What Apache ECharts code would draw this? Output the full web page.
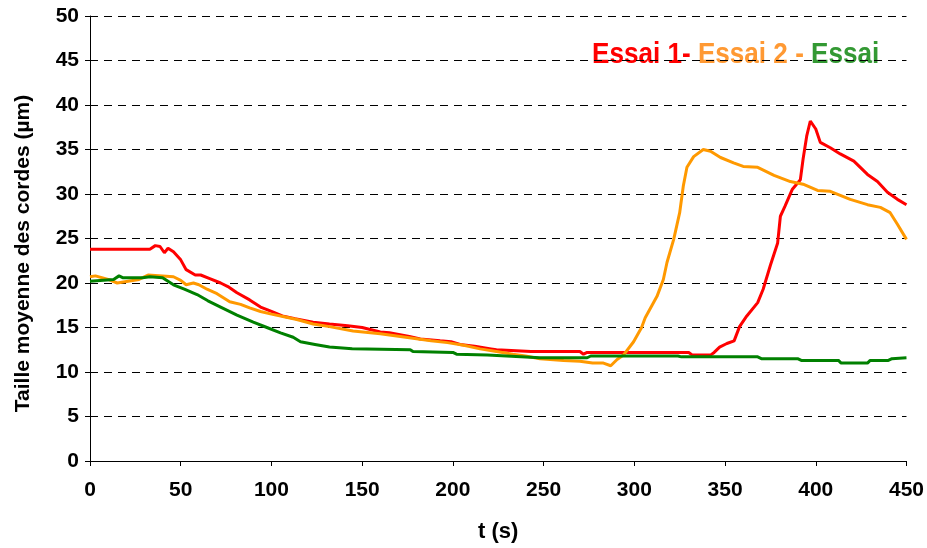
<!DOCTYPE html>
<html>
<head>
<meta charset="utf-8">
<script src="https://cdn.jsdelivr.net/npm/echarts@6/dist/echarts.min.js"></script>
<style>
  html, body { margin: 0; padding: 0; background: #fff; }
  #chart { width: 927px; height: 548px; }
</style>
</head>
<body>
<div id="chart"></div>
<script>
// Time axis ticks (s) and size axis ticks (µm)
const xTicks = [0, 50, 100, 150, 200, 250, 300, 350, 400, 450];
const yTicks = [0, 5, 10, 15, 20, 25, 30, 35, 40, 45, 50];

// Essai 1 : mean chord size vs time
const essai1T = [0, 33, 36, 38.6, 41, 43, 46, 50, 53, 58, 61, 66, 72, 76, 81, 88, 94, 100, 106, 113, 123, 132, 142, 150, 160, 165, 176, 182, 193, 199, 204, 212, 221, 224, 243, 255, 270, 272, 274, 300, 330, 332, 342, 344, 347, 351, 355, 358, 362, 368, 371, 375, 379, 380.5, 383, 387, 391.5, 393, 395, 397, 400, 402.5, 408, 413.5, 421, 428.5, 434, 439.5, 445, 450];
const essai1V = [23.8, 23.8, 24.2, 24.1, 23.4, 23.9, 23.5, 22.6, 21.5, 20.9, 20.9, 20.5, 20.0, 19.6, 18.9, 18.1, 17.3, 16.8, 16.3, 16.0, 15.6, 15.4, 15.2, 15.0, 14.5, 14.4, 14.0, 13.7, 13.5, 13.4, 13.1, 12.9, 12.6, 12.5, 12.3, 12.3, 12.3, 12.0, 12.2, 12.2, 12.2, 11.9, 11.9, 12.2, 12.8, 13.2, 13.5, 15.1, 16.3, 17.8, 19.3, 22.0, 24.5, 27.5, 28.6, 30.5, 31.6, 33.9, 36.5, 38.2, 37.3, 35.8, 35.2, 34.5, 33.7, 32.2, 31.4, 30.2, 29.4, 28.8];

// Essai 2
const essai2T = [0, 3, 10, 15, 21, 27, 32, 40, 46, 50, 53, 57, 60, 64.5, 70, 77, 83, 88, 94, 100, 107, 114, 123, 132, 145, 160, 178, 188, 197, 206, 215, 224, 233, 240, 248, 261, 270, 277, 283, 287, 290.5, 294, 299.6, 304, 306, 312.5, 316, 318, 321.7, 325, 327, 329, 332.7, 338, 342, 347.5, 354.7, 360, 368, 377, 386, 393, 401, 408, 419, 428.5, 435.6, 441, 445, 450];
const essai2V = [20.7, 20.8, 20.4, 20.0, 20.2, 20.4, 20.9, 20.8, 20.7, 20.3, 19.8, 20.0, 19.8, 19.3, 18.8, 17.9, 17.6, 17.2, 16.8, 16.5, 16.2, 15.9, 15.4, 15.1, 14.6, 14.3, 13.8, 13.5, 13.3, 13.0, 12.6, 12.3, 12.0, 11.8, 11.5, 11.3, 11.2, 11.0, 11.0, 10.7, 11.4, 11.9, 13.4, 15.0, 16.1, 18.5, 20.4, 22.3, 24.9, 27.9, 30.9, 33.0, 34.2, 35.0, 34.8, 34.1, 33.5, 33.1, 33.0, 32.1, 31.4, 31.1, 30.4, 30.3, 29.4, 28.8, 28.5, 27.9, 26.6, 24.9];

// Essai 3
const essai3T = [0, 13, 16, 18, 29, 33, 40, 46, 52, 59, 65, 72, 81, 90, 97.5, 105, 112, 116, 124, 132, 144.5, 176.5, 178, 200, 202, 219, 248, 274, 276, 324, 326, 368, 370, 390, 392, 412.5, 414, 428.5, 430, 440, 442, 450];
const essai3V = [20.2, 20.4, 20.8, 20.6, 20.6, 20.7, 20.6, 19.8, 19.3, 18.7, 18.0, 17.3, 16.4, 15.6, 15.0, 14.4, 13.9, 13.4, 13.1, 12.8, 12.6, 12.5, 12.3, 12.2, 12.0, 11.9, 11.6, 11.6, 11.8, 11.8, 11.7, 11.7, 11.5, 11.5, 11.3, 11.3, 11.0, 11.0, 11.3, 11.3, 11.5, 11.6];

// Legend captions
const legendNames = ['Essai 1-', 'Essai 2', '-', 'Essai'];

const zip = (t, v) => t.map((x, i) => [x, v[i]]);
const FONT = '"Liberation Sans", Arial, sans-serif';

const chart = echarts.init(document.getElementById('chart'), null, { renderer: 'canvas' });

const lineSeries = (name, t, v, color) => ({
  name,
  type: 'line',
  data: zip(t, v),
  showSymbol: false,
  symbol: 'none',
  smooth: false,
  lineStyle: { color, width: 3 },
  itemStyle: { color },
  animation: false
});

chart.setOption({
  animation: false,
  backgroundColor: '#ffffff',
  grid: { left: 90, right: 20, top: 16, bottom: 85, containLabel: false },
  xAxis: {
    type: 'value',
    min: xTicks[0],
    max: xTicks[xTicks.length - 1],
    interval: xTicks[1] - xTicks[0],
    name: 't (s)',
    nameLocation: 'middle',
    nameGap: 60,
    nameTextStyle: { fontFamily: FONT, fontWeight: 'bold', fontSize: 22, color: '#000' },
    axisLine: { show: true, onZero: false, lineStyle: { color: '#000', width: 1 } },
    axisTick: { show: true, length: 5, inside: false, lineStyle: { color: '#000' } },
    axisLabel: { fontFamily: FONT, fontWeight: 'bold', fontSize: 21, color: '#000', margin: 19 },
    splitLine: { show: false }
  },
  yAxis: {
    type: 'value',
    min: yTicks[0],
    max: yTicks[yTicks.length - 1],
    interval: yTicks[1] - yTicks[0],
    name: 'Taille moyenne des cordes (µm)',
    nameLocation: 'middle',
    nameGap: 56,
    nameTextStyle: { fontFamily: FONT, fontWeight: 'bold', fontSize: 21, color: '#000', padding: [0, 30, 0, 0] },
    axisLine: { show: true, lineStyle: { color: '#000', width: 1 } },
    axisTick: { show: true, length: 5, inside: false, lineStyle: { color: '#000' } },
    axisLabel: { fontFamily: FONT, fontWeight: 'bold', fontSize: 21, color: '#000', margin: 11 },
    splitLine: { show: true, lineStyle: { color: '#000', width: 1, type: [8, 6] } }
  },
  graphic: [{
    type: 'text',
    left: 592,
    top: 40,
    scaleX: 0.9,
    style: {
      text: '{r|' + legendNames[0] + '} {o|' + legendNames[1] + '} {o|' + legendNames[2] + '} {g|' + legendNames[3] + '}',
      font: 'bold 29px ' + FONT,
      rich: {
        r: { fill: '#ff0000', font: 'bold 29px ' + FONT },
        o: { fill: '#ff9933', font: 'bold 29px ' + FONT },
        g: { fill: '#339933', font: 'bold 29px ' + FONT }
      }
    }
  }],
  series: [
    lineSeries('Essai 1', essai1T, essai1V, '#ff0000'),
    lineSeries('Essai 2', essai2T, essai2V, '#ff9900'),
    lineSeries('Essai 3', essai3T, essai3V, '#008000')
  ]
});
</script>
</body>
</html>
